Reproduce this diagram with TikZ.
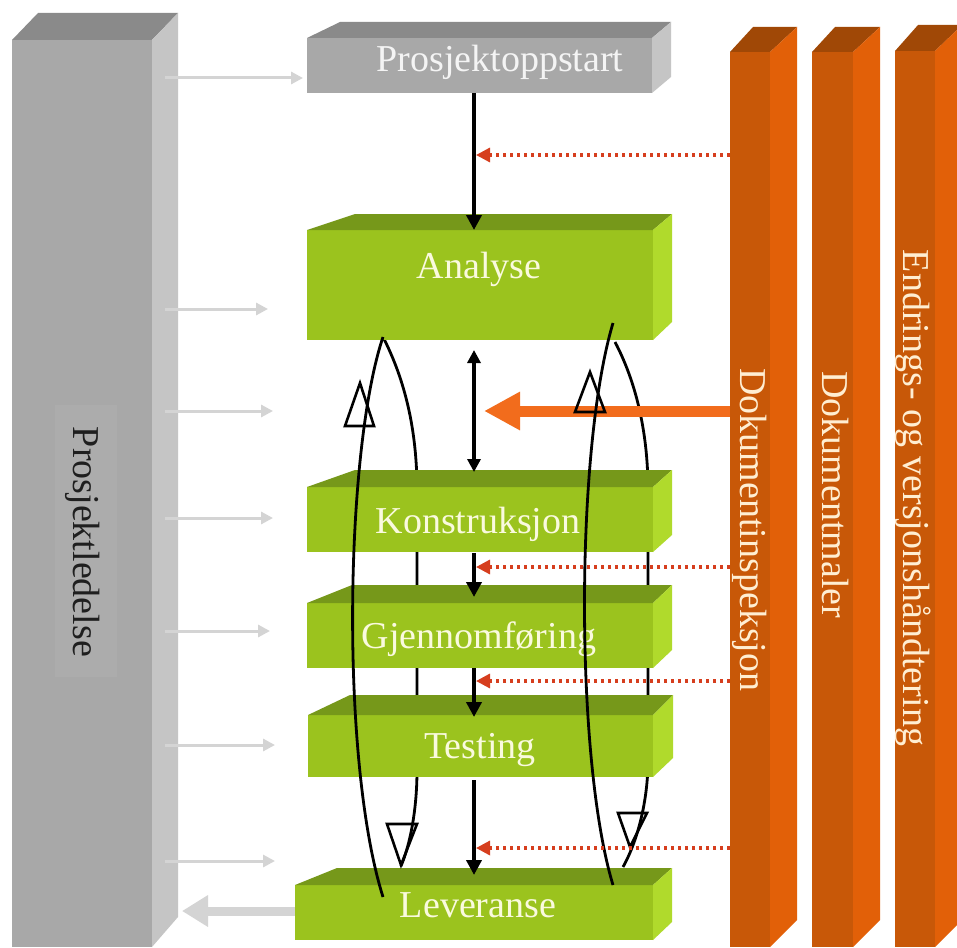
\documentclass[tikz,border=0pt]{standalone}
\usepackage{fontspec}
\setmainfont{Liberation Serif}
\usetikzlibrary{arrows.meta,fit}
\definecolor{gfront}{RGB}{168,168,168}
\definecolor{gtop}{RGB}{138,138,138}
\definecolor{gside}{RGB}{197,197,197}
\definecolor{glabel}{RGB}{172,172,172}
\definecolor{lfront}{RGB}{155,195,30}
\definecolor{ltop}{RGB}{118,152,26}
\definecolor{lside}{RGB}{176,218,44}
\definecolor{ofront}{RGB}{200,88,8}
\definecolor{otop}{RGB}{160,72,6}
\definecolor{oside}{RGB}{226,96,8}
\definecolor{oarrow}{RGB}{242,108,28}
\definecolor{reddot}{RGB}{214,62,30}
\definecolor{garrow}{RGB}{212,212,212}
\definecolor{ltext}{RGB}{250,250,222}
\definecolor{otext}{RGB}{255,238,210}
\definecolor{ptext}{RGB}{244,244,244}
\newcommand\mkbox[7]{%
  \node[inner sep=0pt, outer sep=0pt, fill=#2front, fit={#3}] (#1) {};
  \fill[#2top] (#1.north west) -- (#4,#5) -- (#6,#5) -- (#1.north east) -- cycle;
  \fill[#2side] (#1.north east) -- (#6,#5) -- (#6,#7) -- (#1.south east) -- cycle;
}
\tikzset{
  txt/.style={font=\fontsize{38}{40}\selectfont, inner sep=0pt},
  blk/.style={draw=black, line width=4pt, -{Triangle[length=15pt,width=15pt]}},
  blktwo/.style={draw=black, line width=3.2pt, {Triangle[length=13pt,width=13pt]}-{Triangle[length=13pt,width=13pt]}},
  reddash/.style={draw=reddot, line width=3.2pt, dash pattern=on 3.2pt off 3.8pt, -{Triangle[length=14pt,width=14pt]}},
  grayarrow/.style={draw=garrow, line width=3pt, -{Triangle[length=12pt,width=12pt]}},
  loopline/.style={draw=black, line width=2.8pt},
  opentri/.style={draw=black, line width=2.6pt, line join=miter},
}
\begin{document}
\begin{tikzpicture}[x=1pt,y=-1pt]
\useasboundingbox (0,0) rectangle (957,947);
\fill[white] (0,0) rectangle (957,947);
\clip (0,0) rectangle (957,947);

% left grey pillar
\mkbox{pl}{g}{(12,40) (152,947)}{38}{13}{178}{917}
\fill[glabel] (55,405) rectangle (117,677);
\node[txt, text=black!88, rotate=-90, anchor=base] (plt) at (73,542) {Prosjektledelse};

% grey arrows from the pillar
\coordinate (plx) at (165,0);
\foreach \yy/\xx [count=\i] in {78/303, 309/268, 411/273, 518/273, 631/270, 745/275, 861/275}{
  \coordinate (ga\i) at (\xx,\yy);
  \draw[grayarrow] (ga\i -| plx) -- (ga\i);
}

% orange pillars
\mkbox{da}{o}{(730,52) (770,947)}{753}{27}{797}{920}
\mkbox{db}{o}{(812,52) (853,947)}{835}{27}{880}{920}
\mkbox{dc}{o}{(895,51) (935,947)}{918}{25}{962}{920}
\node[txt, text=otext, rotate=-90, anchor=base] (dat) at (740,530) {Dokumentinspeksjon};
\node[txt, text=otext, rotate=-90, anchor=base] (dbt) at (822,495) {Dokumentmaler};
\node[txt, text=otext, rotate=-90, anchor=base] (dct) at (903,498) {Endrings- og versjonshåndtering};

% back loop curves (behind the boxes)
\coordinate (lt) at (383,337);
\coordinate (lb) at (401,866);
\coordinate (rt) at (615,342);
\coordinate (rb) at (623,867);
\draw[loopline] (lt) .. controls (405,380) and (417,430) .. (417,490) -- (417,770)
  .. controls (417,810) and (410,845) .. (lb);
\draw[loopline] (rt) .. controls (635,380) and (648,430) .. (648,490) -- (648,760)
  .. controls (648,800) and (638,840) .. (rb);

% phase boxes
\mkbox{ps}{g}{(307,38) (652,93)}{340}{22}{671}{77}
\mkbox{ana}{l}{(307,230) (653,340)}{355}{214}{672}{322}
\mkbox{kon}{l}{(307,487) (653,552)}{355}{470}{672}{535}
\mkbox{gje}{l}{(307,603) (653,668)}{352}{585}{672}{650}
\mkbox{tes}{l}{(308,715) (653,777)}{350}{695}{673}{758}
\mkbox{lev}{l}{(295,885) (653,940)}{337}{868}{672}{922}
\node[txt, text=ptext, anchor=base] (pst) at (500,72) {Prosjektoppstart};
\node[txt, text=ltext, anchor=base] (anat) at (479,278) {Analyse};
\node[txt, text=ltext, anchor=base] (kont) at (478,533) {Konstruksjon};
\node[txt, text=ltext, anchor=base] (gjet) at (479,648) {Gjennomføring};
\node[txt, text=ltext, anchor=base] (test) at (480,758) {Testing};
\node[txt, text=ltext, anchor=base] (levt) at (478,917) {Leveranse};

% grey arrow back to the pillar
\coordinate (lbk) at (182,911);
\draw[draw=garrow, line width=9pt, -{Triangle[length=26pt,width=30pt]}] (lbk -| lev.west) -- (lbk);

% big orange arrow
\coordinate (oa) at (484,411);
\draw[draw=oarrow, line width=11pt, -{Triangle[length=36pt,width=36pt]}] (oa -| da.west) -- (oa);

% front loop curves
\coordinate (lf) at (383,897);
\coordinate (rf) at (613,885);
\coordinate (rtt) at (613,323);
\draw[loopline] (lf) .. controls (340,760) and (345,450) .. (lt);
\draw[loopline] (rf) .. controls (575,760) and (575,450) .. (rtt);

% open triangles
\draw[opentri] (360,383) -- (374,426) -- (345,426) -- cycle;
\draw[opentri] (590,372) -- (605,412) -- (575,412) -- cycle;
\draw[opentri] (401,865) -- (387,824) -- (417,824) -- cycle;
\draw[opentri] (630,847) -- (618,813) -- (647,813) -- cycle;

% black flow arrows
\coordinate (ax) at (474,0);
\draw[blk] (ax |- ps.south) -- (ax |- ana.north);
\draw[blktwo] ([yshift=-10pt]ax |- ana.south) -- ([yshift=15pt]ax |- kon.north);
\draw[blk] ([yshift=-1pt]ax |- kon.south) -- ([yshift=6pt]ax |- gje.north);
\draw[blk] (ax |- gje.south) -- ([yshift=-2pt]ax |- tes.north);
\draw[blk] ([yshift=-3pt]ax |- tes.south) -- ([yshift=10pt]ax |- lev.north);

% red dotted arrows from Dokumentinspeksjon
\foreach \yy [count=\i] in {155,567,681,848}{
  \coordinate (rd\i) at (476,\yy);
  \draw[reddash] (rd\i -| da.west) -- (rd\i);
}
\end{tikzpicture}
\end{document}
